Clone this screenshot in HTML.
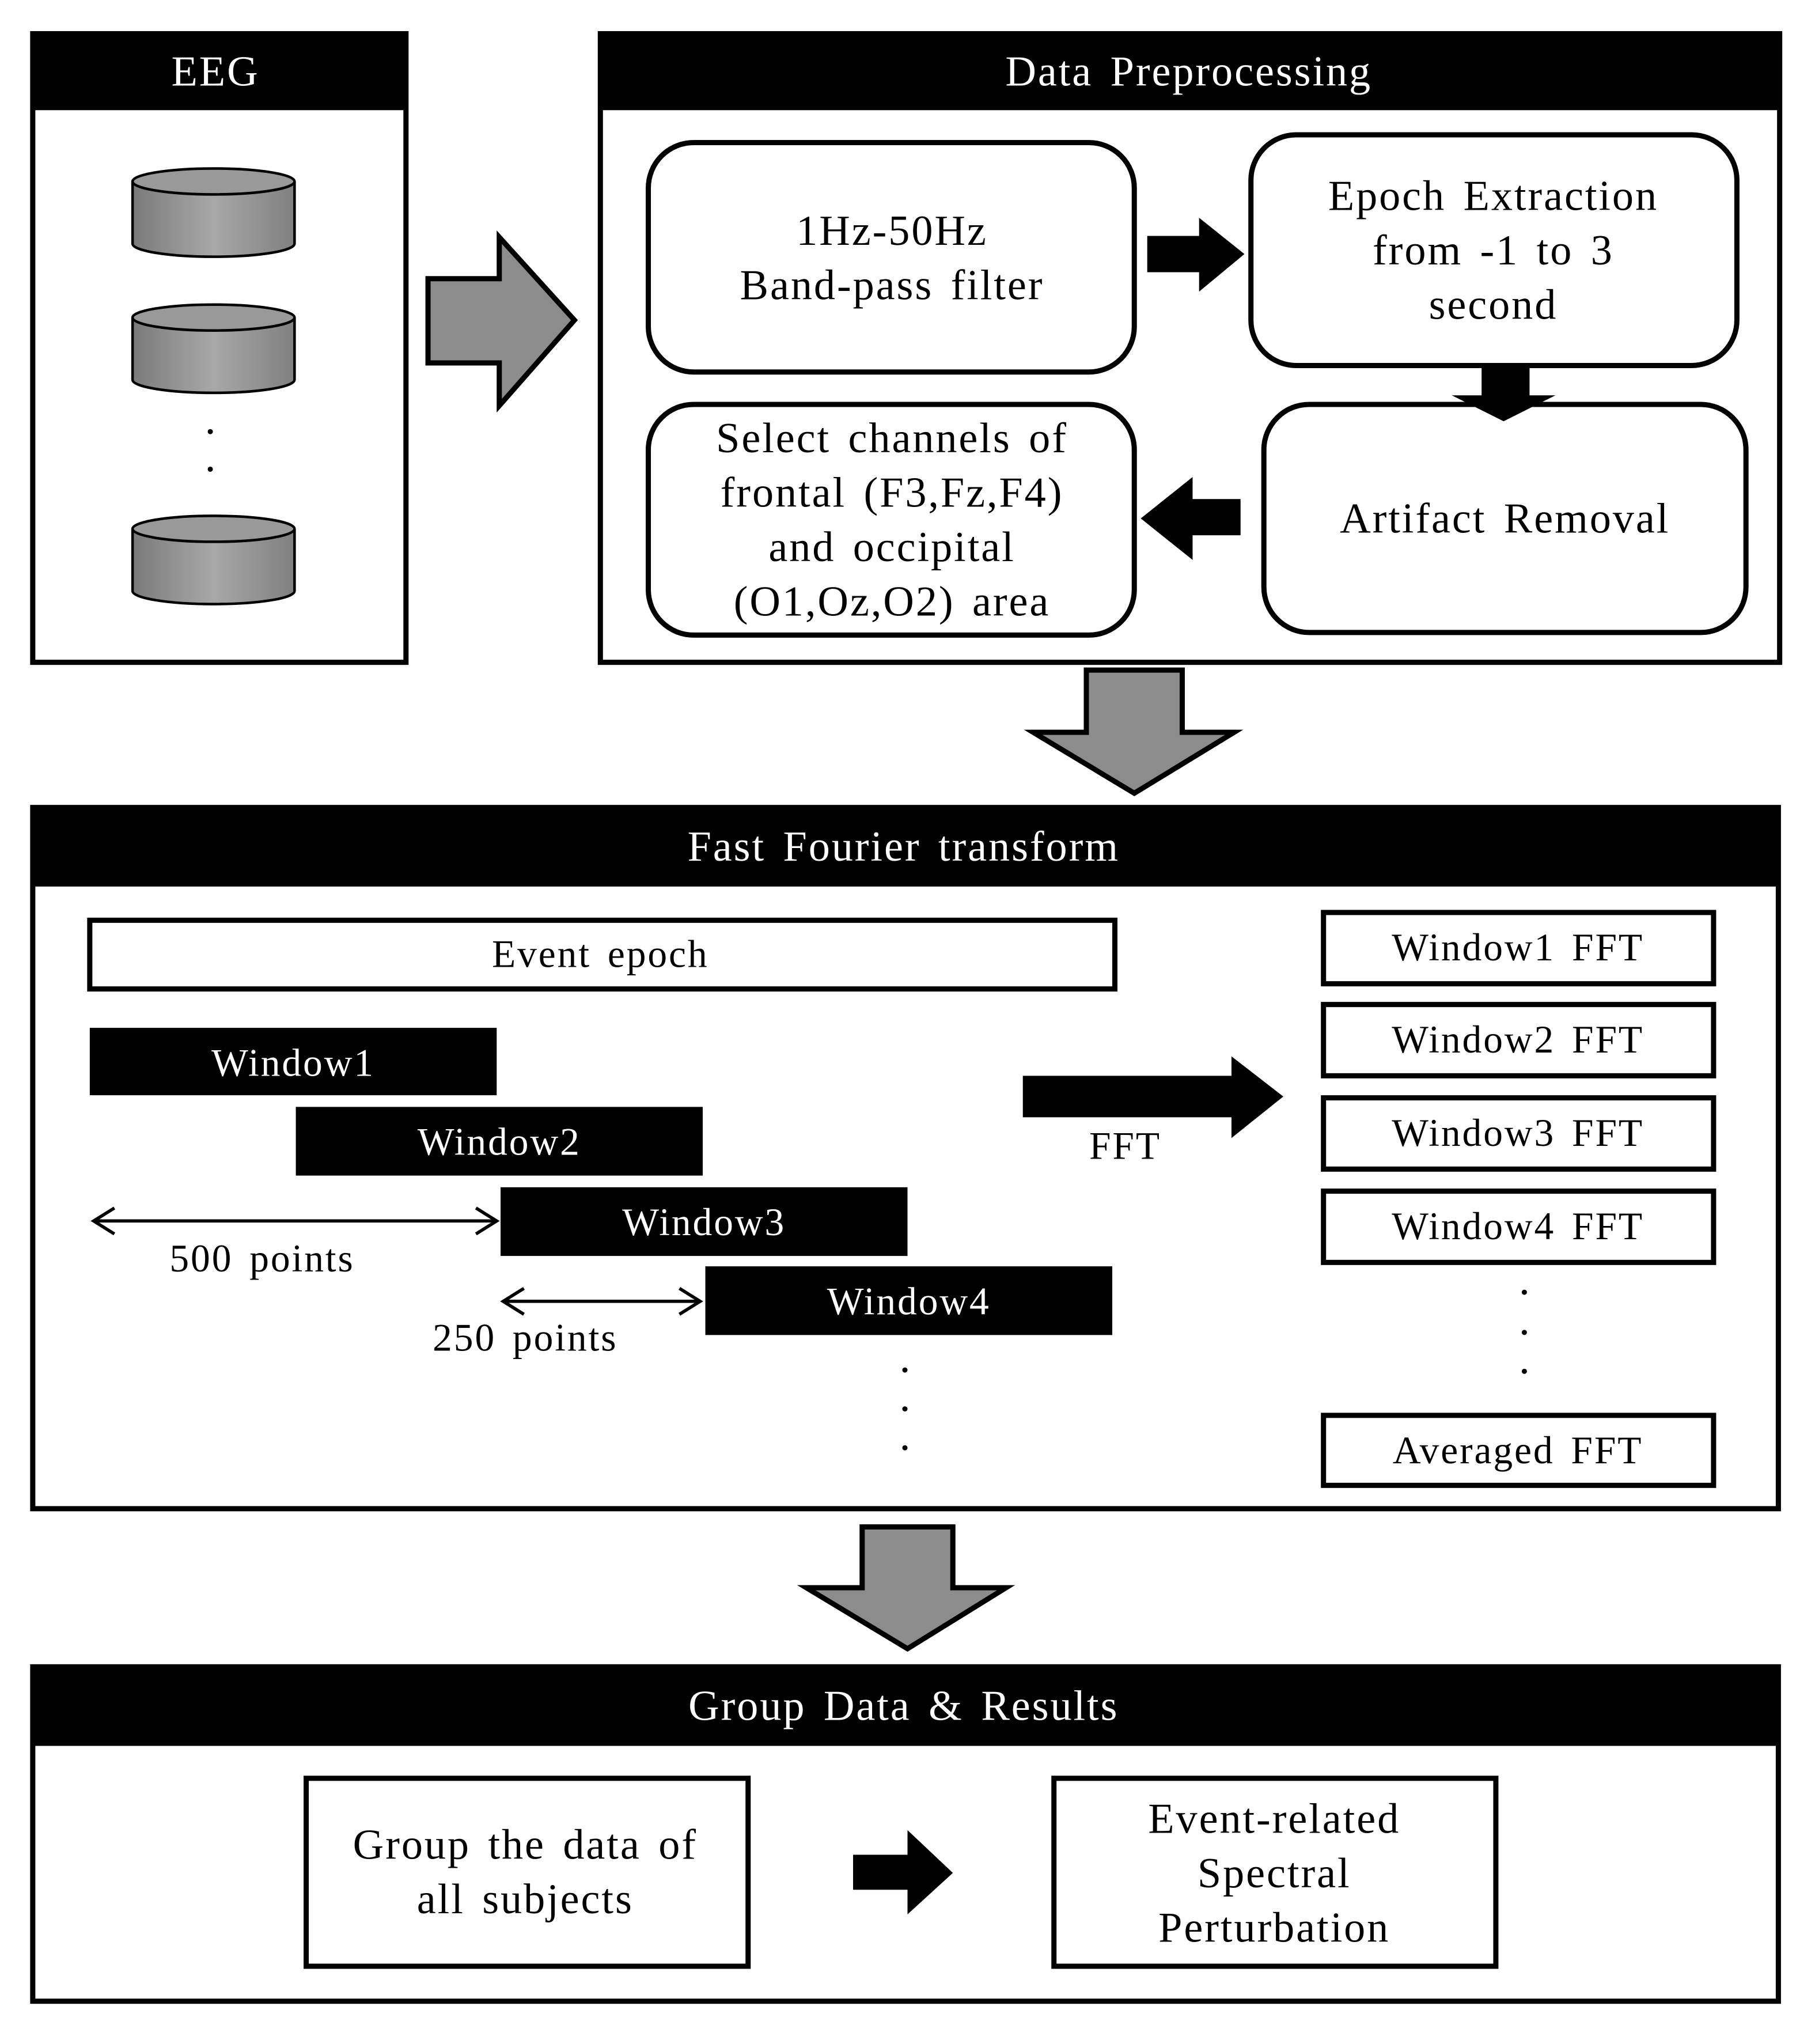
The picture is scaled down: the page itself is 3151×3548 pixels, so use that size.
<!DOCTYPE html>
<html><head><meta charset="utf-8"><style>
html,body{margin:0;padding:0;background:#fff}
svg{display:block}
text{font-family:"Liberation Serif",serif;fill:#000;letter-spacing:1.3px;word-spacing:4px}
.w{fill:#fff}
</style></head><body>
<svg width="3151" height="3548" viewBox="0 0 1400 1577" xmlns="http://www.w3.org/2000/svg">
<defs>
<linearGradient id="g" x1="0" x2="1"><stop offset="0" stop-color="#7a7a7a"/><stop offset="0.5" stop-color="#a8a8a8"/><stop offset="1" stop-color="#808080"/></linearGradient>
</defs>
<rect width="1400" height="1577" fill="#fff"/>
<rect x="25" y="26" width="288" height="485" fill="#fff" stroke="#000" stroke-width="4"/>
<rect x="25" y="26" width="288" height="59" fill="#000"/>
<text x="166" y="66" font-size="33" text-anchor="middle" class="w">EEG</text>
<g stroke="#000" stroke-width="2">
<path d="M102 140 v48 a62 10 0 0 0 125 0 v-48" fill="url(#g)"/><ellipse cx="164.5" cy="140" rx="62.5" ry="10" fill="#999"/>
<path d="M102 245 v48 a62 10 0 0 0 125 0 v-48" fill="url(#g)"/><ellipse cx="164.5" cy="245" rx="62.5" ry="10" fill="#999"/>
<path d="M102 408 v48 a62 10 0 0 0 125 0 v-48" fill="url(#g)"/><ellipse cx="164.5" cy="408" rx="62.5" ry="10" fill="#999"/>
</g>
<circle cx="162" cy="333" r="2" fill="#000"/><circle cx="162" cy="362" r="2" fill="#000"/>
<polygon points="330,215 385,215 385,183 443,247 385,313 385,280 330,280" fill="#8c8c8c" stroke="#000" stroke-width="4"/>
<rect x="463" y="26" width="910" height="485" fill="#fff" stroke="#000" stroke-width="4"/>
<rect x="463" y="26" width="910" height="59" fill="#000"/>
<text x="917" y="66" font-size="33" text-anchor="middle" class="w">Data Preprocessing</text>
<g fill="none" stroke="#000" stroke-width="4">
<rect x="500" y="110" width="375" height="177" rx="35"/>
<rect x="965" y="104" width="375" height="178" rx="35"/>
<rect x="975" y="312" width="372" height="176" rx="35"/>
<rect x="500" y="312" width="375" height="178" rx="35"/>
</g>
<g font-size="33" text-anchor="middle">
<text x="688" y="189">1Hz-50Hz</text><text x="688" y="231">Band-pass  filter</text>
<text x="1152" y="162">Epoch Extraction</text><text x="1152" y="204">from  -1  to  3</text><text x="1152" y="246">second</text>
<text x="1161" y="411">Artifact   Removal</text>
<text x="688" y="349">Select channels  of</text><text x="688" y="391">frontal  (F3,Fz,F4)</text><text x="688" y="433">and occipital</text><text x="688" y="475">(O1,Oz,O2)  area</text>
</g>
<polygon points="885,182 925,182 925,168 960,196 925,225 925,210 885,210" fill="#000"/>
<polygon points="1143,283 1180,283 1180,305 1200,305 1160,325 1120,305 1143,305" fill="#000"/>
<polygon points="957,385 920,385 920,368 880,400 920,432 920,413 957,413" fill="#000"/>
<polygon points="838,517 912,517 912,565 952,565 875,612 797,565 838,565" fill="#8c8c8c" stroke="#000" stroke-width="4"/>
<rect x="25" y="623" width="1347" height="541" fill="#fff" stroke="#000" stroke-width="4"/>
<rect x="25" y="623" width="1347" height="61" fill="#000"/>
<text x="697" y="664" font-size="33" text-anchor="middle" class="w">Fast Fourier transform</text>
<rect x="69" y="710" width="791" height="53" fill="#fff" stroke="#000" stroke-width="4"/>
<text x="463" y="746" font-size="30" text-anchor="middle">Event epoch</text>
<rect x="69" y="793" width="314" height="52" fill="#000"/>
<rect x="228" y="854" width="314" height="53" fill="#000"/>
<rect x="386" y="916" width="314" height="53" fill="#000"/>
<rect x="544" y="977" width="314" height="53" fill="#000"/>
<g font-size="30" text-anchor="middle">
<text x="226" y="830" class="w">Window1</text><text x="385" y="891" class="w">Window2</text><text x="543" y="953" class="w">Window3</text><text x="701" y="1014" class="w">Window4</text>
</g>
<g stroke="#000" stroke-width="2.5" fill="none">
<line x1="72" y1="942" x2="383" y2="942"/><polyline points="88,932 72,942 88,952"/><polyline points="367,932 383,942 367,952"/>
<line x1="388" y1="1004" x2="540" y2="1004"/><polyline points="404,994 388,1004 404,1014"/><polyline points="524,994 540,1004 524,1014"/>
</g>
<text x="202" y="981" font-size="30" text-anchor="middle">500 points</text>
<text x="405" y="1042" font-size="30" text-anchor="middle">250 points</text>
<g fill="#000"><circle cx="698" cy="1057" r="2"/><circle cx="698" cy="1087" r="2"/><circle cx="698" cy="1117" r="2"/>
<circle cx="1176" cy="997" r="2"/><circle cx="1176" cy="1028" r="2"/><circle cx="1176" cy="1058" r="2"/></g>
<polygon points="789,830 950,830 950,815 990,846 950,878 950,862 789,862" fill="#000"/>
<text x="868" y="894" font-size="30" text-anchor="middle">FFT</text>
<g fill="#fff" stroke="#000" stroke-width="4">
<rect x="1021" y="704" width="301" height="55"/><rect x="1021" y="775" width="301" height="55"/><rect x="1021" y="847" width="301" height="55"/><rect x="1021" y="919" width="301" height="55"/><rect x="1021" y="1092" width="301" height="54"/>
</g>
<g font-size="30" text-anchor="middle">
<text x="1171" y="741">Window1 FFT</text><text x="1171" y="812">Window2 FFT</text><text x="1171" y="884">Window3 FFT</text><text x="1171" y="956">Window4 FFT</text><text x="1171" y="1129">Averaged FFT</text>
</g>
<polygon points="665,1178 735,1178 735,1225 776,1225 700,1272 622,1225 665,1225" fill="#8c8c8c" stroke="#000" stroke-width="4"/>
<rect x="25" y="1286" width="1347" height="258" fill="#fff" stroke="#000" stroke-width="4"/>
<rect x="25" y="1286" width="1347" height="61" fill="#000"/>
<text x="697" y="1327" font-size="33" text-anchor="middle" class="w">Group  Data  &amp;  Results</text>
<rect x="236" y="1372" width="341" height="145" fill="#fff" stroke="#000" stroke-width="4"/>
<rect x="813" y="1372" width="341" height="145" fill="#fff" stroke="#000" stroke-width="4"/>
<g font-size="33" text-anchor="middle">
<text x="405" y="1434">Group  the data  of</text><text x="405" y="1476">all subjects</text>
<text x="983" y="1414">Event-related</text><text x="983" y="1456">Spectral</text><text x="983" y="1498">Perturbation</text>
</g>
<polygon points="658,1431 700,1431 700,1412 735,1445 700,1477 700,1458 658,1458" fill="#000"/>
</svg>
</body></html>
